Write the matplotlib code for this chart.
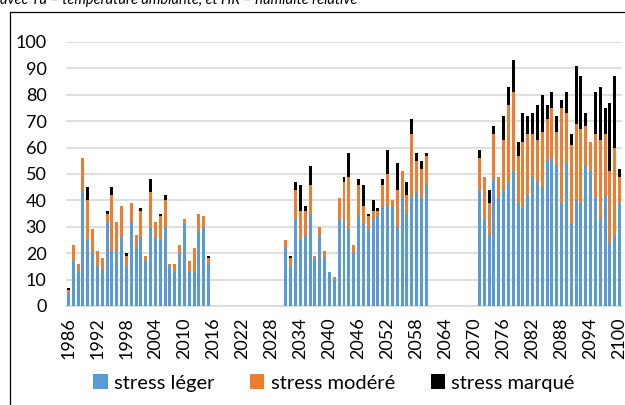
import numpy as np
import matplotlib.pyplot as plt
from matplotlib.patches import Rectangle

plt.rcParams['font.family'] = ['Lato', 'DejaVu Sans']

# years with data (three 30-year periods)
years1 = list(range(1986, 2016))
years2 = list(range(2031, 2061))
years3 = list(range(2071, 2101))

# number of stress days per class
leger1 = [5, 17, 13, 43, 25, 20, 15, 14, 32, 21, 21, 26, 15, 32, 22, 26, 17, 30, 26, 25, 30, 15, 13, 20, 31, 13, 13, 28, 30, 16]
modere1 = [1, 6, 3, 13, 15, 9, 6, 4, 3, 21, 11, 12, 4, 7, 5, 10, 2, 13, 6, 9, 10, 1, 3, 3, 2, 4, 9, 7, 4, 2]
marque1 = [1, 0, 0, 0, 5, 0, 0, 0, 1, 3, 0, 0, 1, 0, 0, 1, 0, 5, 0, 1, 2, 0, 0, 0, 0, 0, 0, 0, 0, 1]

leger2 = [22, 15, 33, 25, 27, 35, 18, 27, 18, 13, 10, 33, 33, 29, 20, 34, 31, 29, 33, 34, 37, 38, 38, 30, 41, 35, 41, 43, 41, 46]
modere2 = [3, 3, 11, 11, 9, 11, 1, 3, 3, 0, 1, 8, 14, 20, 3, 12, 7, 5, 3, 2, 9, 12, 2, 14, 10, 7, 24, 12, 11, 11]
marque2 = [0, 1, 3, 10, 2, 7, 0, 0, 0, 0, 0, 0, 2, 9, 0, 2, 8, 1, 4, 1, 2, 9, 0, 10, 0, 5, 6, 3, 3, 1]

leger3 = [44, 33, 27, 48, 41, 44, 47, 51, 39, 37, 42, 49, 47, 45, 55, 56, 53, 39, 54, 31, 40, 39, 53, 51, 41, 33, 42, 24, 27, 39]
modere3 = [12, 16, 12, 17, 8, 19, 29, 30, 18, 25, 23, 16, 16, 21, 16, 19, 13, 36, 19, 30, 29, 28, 15, 11, 24, 30, 23, 27, 33, 10]
marque3 = [3, 0, 5, 3, 0, 9, 7, 12, 5, 11, 7, 8, 13, 14, 5, 6, 6, 3, 8, 4, 22, 20, 5, 0, 16, 20, 10, 26, 27, 3]

labels = ['stress léger', 'stress modéré', 'stress marqué']
colors = ['#5B9BD5', '#ED7D31', '#000000']

years = np.array(years1 + years2 + years3)
leger = np.array(leger1 + leger2 + leger3)
modere = np.array(modere1 + modere2 + modere3)
marque = np.array(marque1 + marque2 + marque3)

#%%
fig = plt.figure(figsize=(6.25, 4.05), dpi=100)
ax = fig.add_axes([66 / 625, 1 - 306 / 405, 556 / 625, 264 / 405])

w = 0.62
ax.bar(years, leger, w, color=colors[0], label=labels[0], zorder=3)
ax.bar(years, modere, w, bottom=leger, color=colors[1], label=labels[1], zorder=3)
ax.bar(years, marque, w, bottom=leger + modere, color=colors[2], label=labels[2], zorder=3)

ax.set_xlim(1985.5, 2100.5)
ax.set_ylim(0, 100)
ax.set_yticks(range(0, 101, 10))
ax.set_xticks(range(1986, 2101, 6))
ax.set_xticklabels([str(y) for y in range(1986, 2101, 6)], rotation=90, fontsize=13)
ax.tick_params(axis='y', labelsize=13, length=0, pad=14)
ax.tick_params(axis='x', length=0, pad=8)
ax.grid(axis='y', color='#d9d9d9', linewidth=1.2, zorder=0)
for s in ['top', 'right', 'left']:
    ax.spines[s].set_visible(False)
ax.spines['bottom'].set_color('#d9d9d9')
ax.spines['bottom'].set_linewidth(1.2)

fig.legend(loc='center', bbox_to_anchor=(334 / 625, 1 - 383 / 405), ncol=3, frameon=False,
           fontsize=14.5, handlelength=0.7, handleheight=0.7, handletextpad=0.3,
           columnspacing=1.8)

# chart frame (cut by the image edges)
fig.patches.append(Rectangle((10 / 625, -0.1), 1.2, 1 - 12 / 405 + 0.1, transform=fig.transFigure,
                             fill=False, edgecolor='black', linewidth=0.9))

fig.text(0.0, 1 - 4 / 405, 'avec Ta = température ambiante, et HR = humidité relative',
         fontsize=10.5, style='italic', va='baseline', ha='left')

fig.savefig('out.png', dpi=100)
